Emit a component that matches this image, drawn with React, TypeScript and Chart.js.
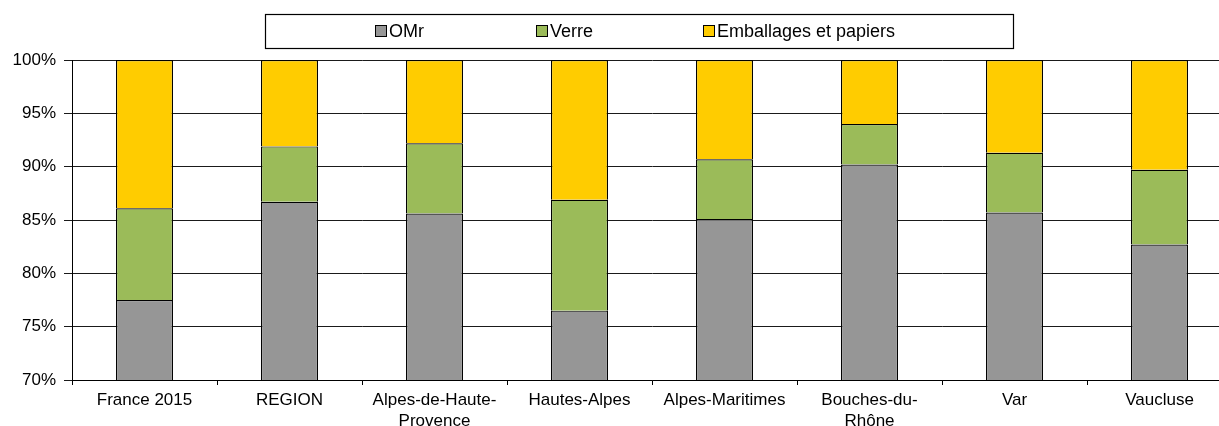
import React, { useEffect, useRef } from "react";
import { Chart, registerables } from "chart.js";

Chart.register(...registerables);

const categories: (string | string[])[] = [
  "France 2015",
  "REGION",
  ["Alpes-de-Haute-", "Provence"],
  "Hautes-Alpes",
  "Alpes-Maritimes",
  ["Bouches-du-", "Rhône"],
  "Var",
  "Vaucluse",
];

const omrValues = [77.5, 86.7, 85.6, 76.5, 85.1, 90.2, 85.7, 82.7];
const verreValues = [8.6, 5.2, 6.6, 10.4, 5.6, 3.8, 5.6, 7.0];
const emballagesValues = [13.9, 8.1, 7.8, 13.1, 9.3, 6.0, 8.7, 10.3];

const seriesNames = ["OMr", "Verre", "Emballages et papiers"];
const seriesColors = ["#969696", "#9BBB59", "#FFCC00"];

const yTicks = [70, 75, 80, 85, 90, 95, 100];

const FONT = "'Liberation Sans', Arial, sans-serif";

const boxLegend = {
  id: "boxLegend",
  afterDraw(chart: any) {
    const ctx = chart.ctx;
    ctx.save();
    ctx.strokeStyle = "#000";
    ctx.lineWidth = 1.2;
    ctx.strokeRect(265.5, 14.5, 748, 34);
    const xs = [375, 536, 703];
    ctx.font = `18px ${FONT}`;
    ctx.textBaseline = "middle";
    ctx.fillStyle = "#000";
    chart.data.datasets.forEach((ds: any, i: number) => {
      const x = xs[i];
      ctx.fillStyle = ds.backgroundColor;
      ctx.fillRect(x, 25, 12, 12);
      ctx.strokeStyle = "#000";
      ctx.lineWidth = 1;
      ctx.strokeRect(x + 0.5, 25.5, 11, 11);
      ctx.fillStyle = "#000";
      ctx.fillText(ds.label, x + 14, 32);
    });
    ctx.restore();
  },
};

export default function App() {
  const ref = useRef<HTMLCanvasElement>(null);

  useEffect(() => {
    if (!ref.current) return;
    const data = [omrValues, verreValues, emballagesValues];
    const chart = new Chart(ref.current, {
      type: "bar",
      data: {
        labels: categories,
        datasets: data.map((vals, i) => ({
          label: seriesNames[i],
          data: vals,
          backgroundColor: seriesColors[i],
          borderColor: "#000",
          borderWidth: 1.2,
          categoryPercentage: 1,
          barPercentage: 0.393,
        })),
      },
      options: {
        animation: false,
        responsive: false,
        devicePixelRatio: 1,
        layout: { padding: { top: 60, right: 8, left: 0, bottom: 0 } },
        plugins: {
          legend: { display: false },
          tooltip: { enabled: false },
          title: { display: false },
        },
        scales: {
          x: {
            stacked: true,
            afterFit(scale: any) {
              scale.height = 46;
            },
            grid: {
              offset: true,
              drawOnChartArea: false,
              drawTicks: true,
              tickLength: 5,
              color: "#000",
            },
            border: { display: true, color: "#000", width: 1 },
            ticks: {
              color: "#000",
              font: { family: FONT, size: 17, lineHeight: 1.28 },
              padding: 4,
              maxRotation: 0,
              autoSkip: false,
            },
          },
          y: {
            stacked: true,
            min: 70,
            max: 100,
            afterFit(scale: any) {
              scale.width = 72;
            },
            afterBuildTicks(scale: any) {
              scale.ticks = yTicks.map((v) => ({ value: v }));
            },
            grid: {
              color: "#1a1a1a",
              lineWidth: 1,
              tickLength: 8,
            },
            border: { display: true, color: "#000", width: 1 },
            ticks: {
              color: "#000",
              font: { family: FONT, size: 17 },
              padding: 8,
              callback: (v: any) => `${v}%`,
            },
          },
        },
      },
      plugins: [boxLegend],
    });
    return () => chart.destroy();
  }, []);

  return (
    <div
      style={{
        position: "fixed",
        left: 0,
        top: 0,
        width: 1219,
        height: 426,
        overflow: "hidden",
        background: "#fff",
      }}
    >
      <canvas ref={ref} width={1240} height={426} style={{ display: "block" }} />
    </div>
  );
}
